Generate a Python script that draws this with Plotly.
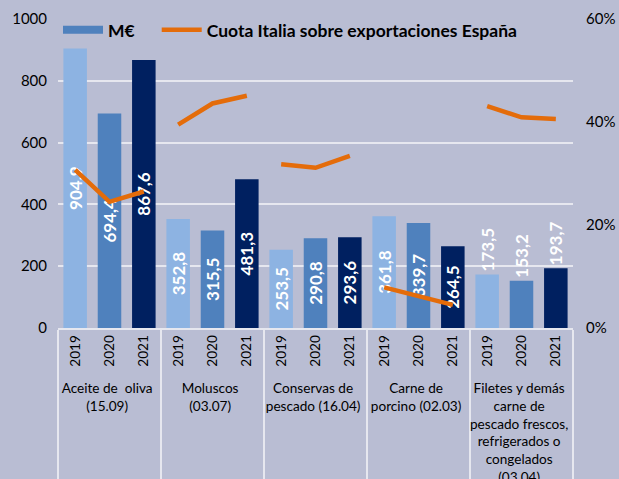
import plotly.graph_objects as go

categories = [
    "Aceite de  oliva<br>(15.09)",
    "Moluscos<br>(03.07)",
    "Conservas de<br>pescado (16.04)",
    "Carne de<br>porcino (02.03)",
    "Filetes y demás<br>carne de<br>pescado frescos,<br>refrigerados o<br>congelados<br>(03.04)",
]
years = ["2019", "2020", "2021"]
meur = [
    [904.9, 694.4, 867.6],
    [352.8, 315.5, 481.3],
    [253.5, 290.8, 293.6],
    [361.8, 339.7, 264.5],
    [173.5, 153.2, 193.7],
]
cuota = [
    [30.7, 24.5, 26.5],
    [39.5, 43.6, 45.1],
    [31.8, 31.1, 33.4],
    [7.9, 6.1, 4.5],
    [43.1, 40.9, 40.6],
]
year_colors = ["#8db3e2", "#4f81bd", "#002060"]
bg = "#b9bdd3"
grid = "#e6e7ef"
font_family = "Lato, 'Open Sans', sans-serif"

xg, xy, vals, cols, texts, tpos = [], [], [], [], [], []
for gi, c in enumerate(categories):
    for yi, y in enumerate(years):
        xg.append(c)
        xy.append(y)
        v = meur[gi][yi]
        vals.append(v)
        cols.append(year_colors[yi])
        texts.append(f"{v:.1f}".replace(".", ","))
        tpos.append("outside" if gi == len(categories) - 1 else "inside")

fig = go.Figure()
fig.add_trace(go.Bar(
    x=[xg, xy], y=vals, marker=dict(color=cols, line=dict(width=0)),
    text=texts, textposition=tpos, textangle=-90, insidetextanchor="middle",
    constraintext="none",
    textfont=dict(color="white", size=17, family=font_family, weight="bold"),
    outsidetextfont=dict(color="white", size=17, family=font_family, weight="bold"),
    cliponaxis=False, name="M€", showlegend=False,
))
# legend entry for the bar series (wide swatch like the original)
fig.add_trace(go.Scatter(
    x=[[categories[0]], [years[0]]], y=[None], mode="lines",
    line=dict(color="#4f81bd", width=8), name="M€\u00a0\u00a0\u00a0\u00a0", showlegend=True,
))
for gi, c in enumerate(categories):
    fig.add_trace(go.Scatter(
        x=[[c] * 3, years], y=cuota[gi], yaxis="y2", mode="lines",
        line=dict(color="#e46c0a", width=4.5),
        name="Cuota Italia sobre exportaciones España",
        legendgroup="cuota", showlegend=(gi == 0),
    ))

fig.update_layout(
    width=619, height=479,
    margin=dict(l=58, r=46, t=19, b=151, autoexpand=False),
    paper_bgcolor=bg, plot_bgcolor=bg,
    font=dict(family=font_family, color="black", size=15),
    bargap=0.315,
    xaxis=dict(
        type="multicategory", tickangle=-90, tickfont=dict(size=13.6),
        showdividers=True, dividercolor=grid, dividerwidth=1.5,
        showline=True, linecolor=grid, linewidth=1.5, showgrid=False,
        automargin=False,
    ),
    yaxis=dict(
        range=[0, 1000], dtick=200, showgrid=True, gridcolor=grid, gridwidth=1.5,
        zeroline=False, ticklabelstandoff=10, tickfont=dict(size=15),
        automargin=False,
    ),
    yaxis2=dict(
        range=[0, 60], dtick=20, ticksuffix="%", overlaying="y", side="right",
        showgrid=False, zeroline=False, ticklabelstandoff=12, tickfont=dict(size=15),
        automargin=False,
    ),
    legend=dict(
        orientation="h", x=0.0, xanchor="left", y=0.965, yanchor="middle",
        bgcolor="rgba(0,0,0,0)", itemwidth=40,
        font=dict(size=17.5, family=font_family, weight="bold"),
    ),
)

fig.write_html(
    "out.html",
    config={"displayModeBar": False},
    post_script="document.body.style.margin='0';document.body.style.background='%s';" % bg,
)
